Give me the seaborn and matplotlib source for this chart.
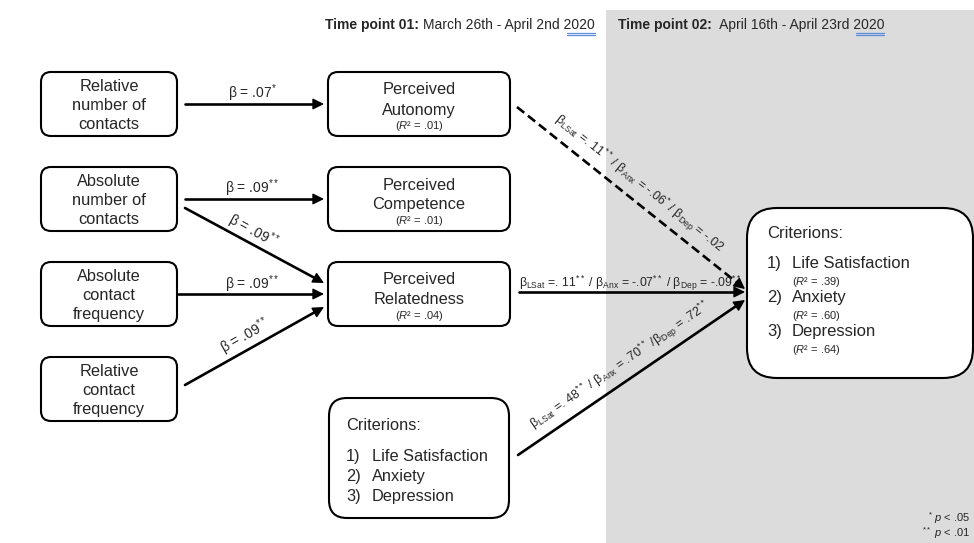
import math
import pandas as pd
import matplotlib
matplotlib.use("Agg")
import matplotlib.pyplot as plt
from matplotlib.patches import FancyBboxPatch, Rectangle
import seaborn as sns

# ---- content of the path diagram ----
predictors = ["Relative\nnumber of\ncontacts", "Absolute\nnumber of\ncontacts",
              "Absolute\ncontact\nfrequency", "Relative\ncontact\nfrequency"]
mediators = ["Perceived\nAutonomy", "Perceived\nCompetence", "Perceived\nRelatedness"]
mediator_r2 = [".01", ".01", ".04"]
criteria = ["Life Satisfaction", "Anxiety", "Depression"]
criteria_r2 = [".39", ".60", ".64"]

# predictor -> mediator paths
pm_source = [0, 1, 1, 2, 3]
pm_target = [0, 1, 2, 2, 2]
pm_beta = [".07", ".09", ".09", ".09", ".09"]
pm_sig = ["*", "**", "**", "**", "**"]

# time point 01 -> criterions at time point 02
out_source = ["Autonomy", "Relatedness", "Criterions T1"]
out_lsat = [". 11", ". 11", ". 48"]
out_lsat_sig = ["**", "**", "**"]
out_anx = ["-.06", "-.07", ".70"]
out_anx_sig = ["*", "**", "**"]
out_dep = ["-.02", "-.09", ".72"]
out_dep_sig = ["", "**", "**"]
out_kind = ["dashed", "solid", "solid"]

header_bold = ["Time point 01:", "Time point 02:"]
header_dates = ["March 26th - April 2nd 2020", " April 16th - April 23rd 2020"]

# ---- layout (pixel units) ----
PRED_X, PRED_W, BOX_H = 41, 136, 64
pred_top = [72, 167, 262, 357]
MED_X, MED_W = 328, 182
med_top = [72, 167, 262]
T1_BOX = (329, 398, 180, 120)
T2_BOX = (747, 208, 226, 170)

sns.set_theme(style="white")
plt.rcParams["font.family"] = ["Liberation Sans", "DejaVu Sans"]
plt.rcParams["mathtext.fontset"] = "custom"
plt.rcParams["mathtext.rm"] = "Liberation Sans"
plt.rcParams["mathtext.it"] = "Liberation Sans:italic"
plt.rcParams["mathtext.bf"] = "Liberation Sans:bold"

fig = plt.figure(figsize=(9.74, 5.43), dpi=100)
ax = fig.add_axes([0, 0, 1, 1])

ax.add_patch(Rectangle((606, 10), 368, 533, color="#dcdcdc", zorder=0, lw=0))


def box(x, y, w, h, r=10):
    ax.add_patch(FancyBboxPatch((x, y), w, h, boxstyle=f"round,pad=0,rounding_size={r}",
                                fc="white", ec="black", lw=1.5, zorder=2))


def sig(s):
    return f"$^{{{s}}}$" if s else ""


# ---- edges ----
pm_dy0 = [0, 0, 9, 0, -4]
pm_dy1 = [0, 0, -11, 0, 13]
pm_x0 = [8, 8, 8, 1, 8]
edges = []
for k in range(len(pm_source)):
    s, t = pm_source[k], pm_target[k]
    x0 = PRED_X + PRED_W + pm_x0[k]
    y0 = pred_top[s] + BOX_H / 2 + pm_dy0[k]
    x1 = MED_X - 4
    y1 = med_top[t] + BOX_H / 2 + pm_dy1[k]
    edges.append((f"pm{k}", x0, y0, x1, y1, "solid"))

t2_left = T2_BOX[0] - 2
t2_cy = T2_BOX[1] + T2_BOX[3] / 2
out_start = [(MED_X + MED_W + 7, med_top[0] + BOX_H / 2 + 3),
             (MED_X + MED_W + 9, med_top[2] + BOX_H / 2 - 2),
             (T1_BOX[0] + T1_BOX[2] + 9, T1_BOX[1] + T1_BOX[3] / 2 - 3)]
out_end_dy = [-4, -1, 7]
for k in range(len(out_source)):
    x0, y0 = out_start[k]
    edges.append((f"out{k}", x0, y0, t2_left, t2_cy + out_end_dy[k], out_kind[k]))

HEAD = 9
rows = []
for name, x0, y0, x1, y1, kind in edges:
    dx, dy = x1 - x0, y1 - y0
    n = (dx ** 2 + dy ** 2) ** 0.5
    rows.append(dict(edge=name, x=x0, y=y0, kind=kind))
    rows.append(dict(edge=name, x=x1 - dx / n * HEAD, y=y1 - dy / n * HEAD, kind=kind))
    ax.annotate("", xy=(x1, y1), xytext=(x1 - dx / n * (HEAD + 1), y1 - dy / n * (HEAD + 1)),
                arrowprops=dict(arrowstyle="-|>", color="black", lw=1.0,
                                mutation_scale=17, shrinkA=0, shrinkB=0), zorder=4)
edge_df = pd.DataFrame(rows)
sns.lineplot(data=edge_df, x="x", y="y", units="edge", estimator=None, sort=False,
             style="kind", dashes={"solid": "", "dashed": (3.5, 1.8)},
             color="black", lw=1.9, legend=False, ax=ax, zorder=3)
ax.set_xlim(0, 974)
ax.set_ylim(543, 0)
ax.axis("off")

# predictor boxes
for i, label in enumerate(predictors):
    box(PRED_X, pred_top[i], PRED_W, BOX_H)
    cy = pred_top[i] + BOX_H / 2
    for j, line in enumerate(label.split("\n")):
        ax.text(PRED_X + PRED_W / 2, cy + (j - 1) * 19, line, ha="center",
                va="center_baseline", fontsize=11.8, zorder=3)

# mediator boxes
for i, label in enumerate(mediators):
    box(MED_X, med_top[i], MED_W, BOX_H)
    for j, line in enumerate(label.split("\n")):
        ax.text(MED_X + MED_W / 2, med_top[i] + 16.5 + j * 20, line, ha="center",
                va="center_baseline", fontsize=11.8, zorder=3)
    ax.text(MED_X + MED_W / 2, med_top[i] + 52, f"($\\mathit{{R}}$² = {mediator_r2[i]})",
            ha="center", va="center_baseline", fontsize=8, zorder=3)

# criterions at time point 01
x, y, w, h = T1_BOX
box(x, y, w, h, r=18)
ax.text(x + 17, y + 26, "Criterions:", va="center_baseline", fontsize=11.8, zorder=3)
for j, c in enumerate(criteria):
    ax.text(x + 17, y + 57 + j * 20, f"{j + 1})", va="center_baseline", fontsize=11.8, zorder=3)
    ax.text(x + 43, y + 57 + j * 20, c, va="center_baseline", fontsize=11.8, zorder=3)

# criterions at time point 02
x, y, w, h = T2_BOX
box(x, y, w, h, r=30)
ax.text(x + 20, y + 24, "Criterions:", va="center_baseline", fontsize=12, zorder=3)
for j, c in enumerate(criteria):
    ax.text(x + 20, y + 54 + j * 34, f"{j + 1})", va="center_baseline", fontsize=12, zorder=3)
    ax.text(x + 45, y + 54 + j * 34, c, va="center_baseline", fontsize=12, zorder=3)
    ax.text(x + 45, y + 72 + j * 34, f"($\\mathit{{R}}$² = {criteria_r2[j]})",
            va="center_baseline", fontsize=8, zorder=3)

# ---- edge labels ----
edge_pos = {e[0]: e[1:5] for e in edges}
pm_offset = [11, 11, 12, 10, 13]
pm_cx = [252, 252, 247, 252, 252]
for k in range(len(pm_source)):
    x0, y0, x1, y1 = edge_pos[f"pm{k}"]
    ang = math.degrees(math.atan2(-(y1 - y0), x1 - x0))
    nx, ny = (y1 - y0), -(x1 - x0)
    n = (nx ** 2 + ny ** 2) ** 0.5
    if ny > 0:
        nx, ny = -nx, -ny
    cx = pm_cx[k] + nx / n * pm_offset[k]
    cy = y0 + (pm_cx[k] - x0) / (x1 - x0) * (y1 - y0) + ny / n * pm_offset[k]
    ax.text(cx, cy, f"β = {pm_beta[k]}{sig(pm_sig[k])}", rotation=ang, rotation_mode="anchor",
            ha="center", va="center", fontsize=10, zorder=5)

for k in range(len(out_source)):
    x0, y0, x1, y1 = edge_pos[f"out{k}"]
    ang = math.degrees(math.atan2(-(y1 - y0), x1 - x0))
    sep = " /" if k == 2 else " / "
    label = (f"$\\mathrm{{β}}_{{\\mathrm{{LSat}}}}$ ={out_lsat[k]}{sig(out_lsat_sig[k])} / "
             f"$\\mathrm{{β}}_{{\\mathrm{{Anx}}}}$ = {out_anx[k]}{sig(out_anx_sig[k])}{sep}"
             f"$\\mathrm{{β}}_{{\\mathrm{{Dep}}}}$ = {out_dep[k]}{sig(out_dep_sig[k])}")
    if k == 1:
        ax.text(x0, y0 - 9, label, ha="left", va="center", fontsize=8.8, zorder=5)
    else:
        nx, ny = (y1 - y0), -(x1 - x0)
        n = (nx ** 2 + ny ** 2) ** 0.5
        if ny > 0:
            nx, ny = -nx, -ny
        cx = 629 + nx / n * 16
        cy = y0 + (629 - x0) / (x1 - x0) * (y1 - y0) + ny / n * 16
        ax.text(cx, cy, label, rotation=ang, rotation_mode="anchor",
                ha="center", va="center", fontsize=9, zorder=5)

# ---- header ----
header_x = [325, 618]
renderer = fig.canvas.get_renderer()
for k in range(2):
    tb = ax.text(header_x[k], 25, header_bold[k], va="center", fontsize=10,
                 fontweight="bold", zorder=5)
    x_end = tb.get_window_extent(renderer).x1
    tn = ax.text(x_end + 4, 25, header_dates[k], va="center", fontsize=10, zorder=5)
    x_end = tn.get_window_extent(renderer).x1
    for yy in (33, 35):
        ax.plot([x_end - 28, x_end], [yy, yy], color="#5b8bd9", lw=0.9, zorder=5)

# ---- footnote ----
ax.text(970, 518, "$^{*}$ $\\mathit{p}$ < .05", ha="right", va="center", fontsize=8)
ax.text(970, 533, "$^{**}$ $\\mathit{p}$ < .01", ha="right", va="center", fontsize=8)

fig.savefig("out.png", dpi=100)
